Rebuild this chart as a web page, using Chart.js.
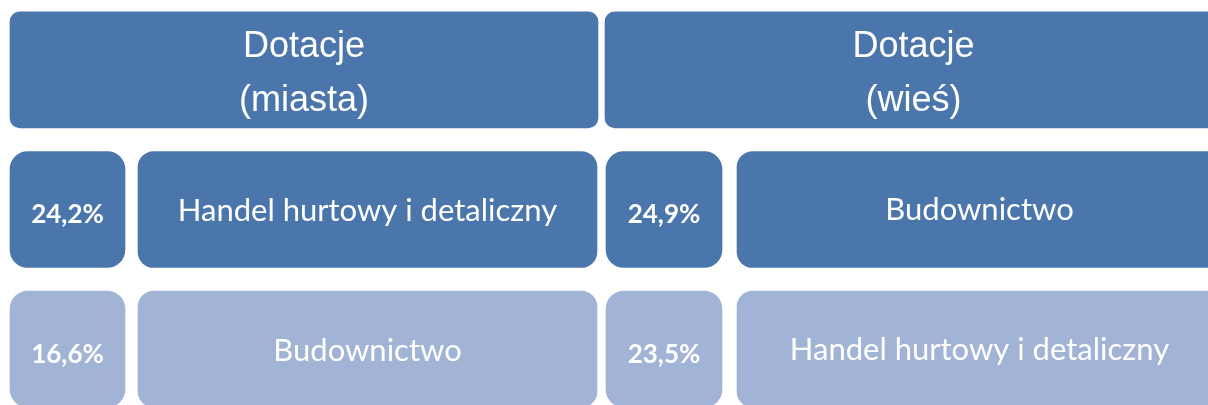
<!DOCTYPE html>
<html lang="pl">
<head>
<meta charset="UTF-8">
<title>Dotacje</title>
<script src="https://cdn.jsdelivr.net/npm/chart.js"></script>
<style>
  html, body { margin: 0; padding: 0; background: #fff; }
</style>
</head>
<body>
<canvas id="chart" width="1208" height="405"></canvas>
<script>
  // data
  const groups = ['Dotacje\n(miasta)', 'Dotacje\n(wieś)'];
  const cityCategories = ['Handel hurtowy i detaliczny', 'Budownictwo'];
  const cityShares = [24.2, 16.6];
  const villageCategories = ['Budownictwo', 'Handel hurtowy i detaliczny'];
  const villageShares = [24.9, 23.5];

  // box extents on the x scale (0..1208)
  const layout = {
    cityHead: [10, 598], citySmall: [10, 125], cityBig: [138, 597],
    villageHead: [605, 1222], villageSmall: [606, 722], villageBig: [737, 1222]
  };
  const dark = '#4a76ac';
  const light = '#a2b4d5';

  const fmt = v => v.toFixed(1).replace('.', ',') + '%';
  const rowColor = c => (c.raw && c.raw.y === 2 ? light : dark);

  function boxes(values, extent) {
    return values.map((v, i) => ({ y: i + 1, x: extent }));
  }

  const headFont = '36px "Liberation Sans", Arial, sans-serif';
  const pctFont = 'bold 26px Lato, sans-serif';
  const catFont = '31px Lato, sans-serif';

  const datasets = [
    { data: [{ y: 0, x: layout.cityHead }, { y: 0, x: layout.villageHead }],
      texts: groups, textFont: headFont, lineHeight: 54, textShift: 4, borderRadius: 10 },
    { data: boxes(cityShares, layout.citySmall), texts: cityShares.map(fmt),
      textFont: pctFont, textShift: 5, borderRadius: 18 },
    { data: boxes(cityCategories, layout.cityBig), texts: cityCategories,
      textFont: catFont, textShift: 2, borderRadius: 16 },
    { data: boxes(villageShares, layout.villageSmall), texts: villageShares.map(fmt),
      textFont: pctFont, textShift: 5, borderRadius: 18 },
    { data: boxes(villageCategories, layout.villageBig), texts: villageCategories,
      textFont: catFont, textShift: 1, borderRadius: 16 }
  ].map(ds => Object.assign({
    backgroundColor: rowColor,
    borderSkipped: false,
    barThickness: 116
  }, ds));

  // writes the white labels in the middle of each box
  const boxText = {
    id: 'boxText',
    afterDatasetsDraw(chart) {
      const ctx = chart.ctx;
      chart.data.datasets.forEach((ds, di) => {
        chart.getDatasetMeta(di).data.forEach((bar, i) => {
          const p = bar.getProps(['x', 'y', 'base'], true);
          const cx = (p.x + p.base) / 2;
          const lines = String(ds.texts[i]).split('\n');
          ctx.save();
          ctx.fillStyle = '#fff';
          ctx.font = ds.textFont;
          ctx.textAlign = 'center';
          ctx.textBaseline = 'middle';
          lines.forEach((ln, k) => {
            const dy = (k - (lines.length - 1) / 2) * (ds.lineHeight || 0);
            ctx.fillText(ln, cx, p.y + dy + (ds.textShift || 0));
          });
          ctx.restore();
        });
      });
    }
  };

  new Chart(document.getElementById('chart'), {
    type: 'bar',
    data: { datasets: datasets },
    options: {
      responsive: false,
      animation: false,
      indexAxis: 'y',
      layout: { padding: 0 },
      plugins: { legend: { display: false }, tooltip: { enabled: false } },
      datasets: { bar: { grouped: false } },
      scales: {
        x: { type: 'linear', min: 0, max: 1208, display: false },
        y: { type: 'linear', min: -0.5, max: 2.4, reverse: true, offset: false, display: false }
      }
    },
    plugins: [boxText]
  });
</script>
</body>
</html>
